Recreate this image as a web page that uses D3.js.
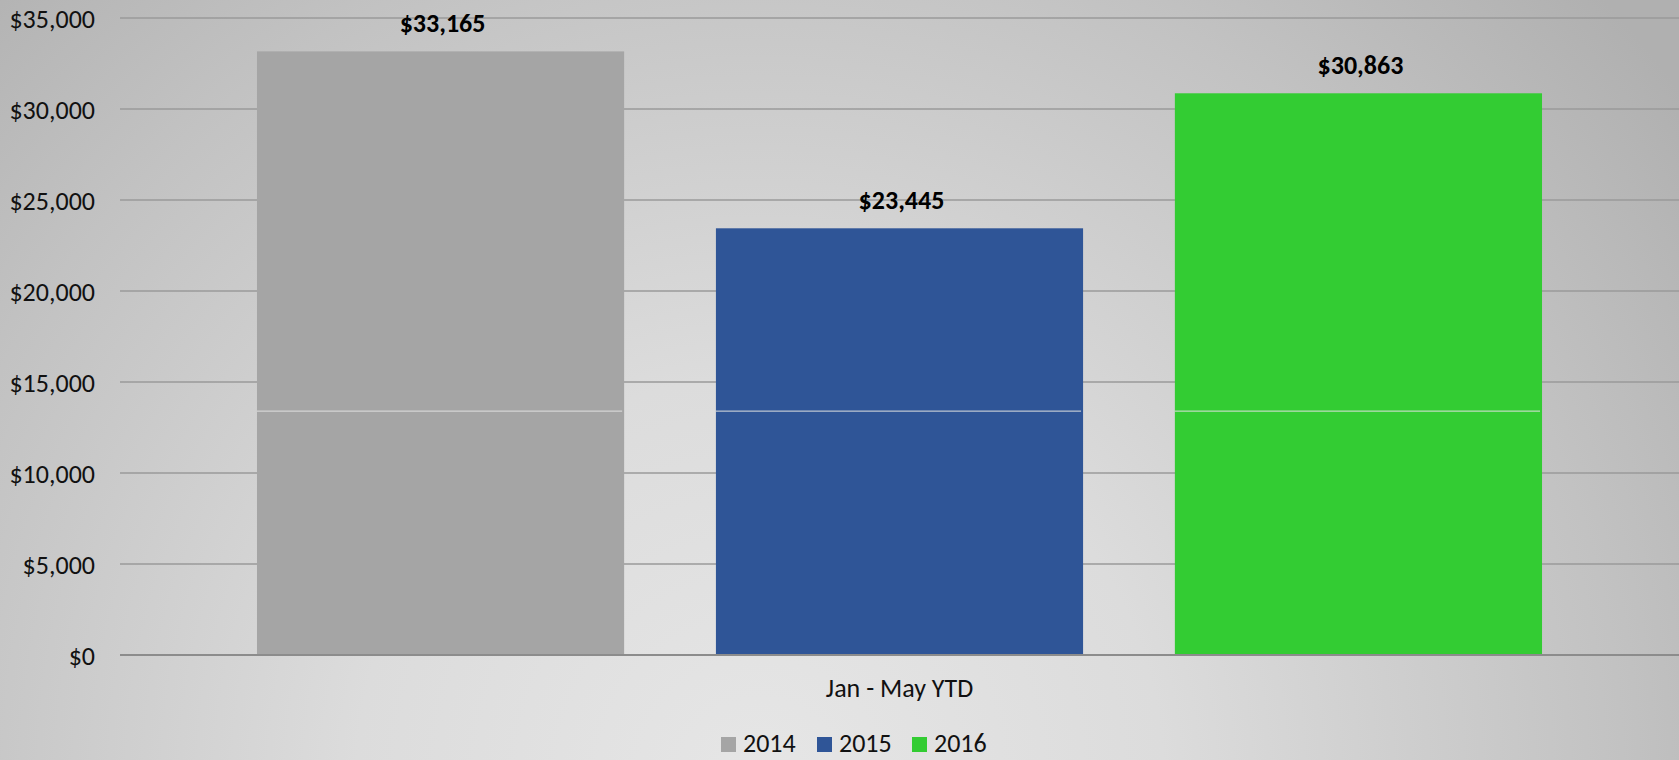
<!DOCTYPE html>
<html><head><meta charset="utf-8">
<script src="https://cdn.jsdelivr.net/npm/d3@7/dist/d3.min.js"></script>
<style>html,body{margin:0;padding:0;overflow:hidden;}svg{display:block;}</style>
</head><body>
<script>
const categories = ["Jan - May YTD"];
const series = ["2014", "2015", "2016"];
const values2014 = [33165];
const values2015 = [23445];
const values2016 = [30863];
const seriesValues = [values2014, values2015, values2016];
const colors = ["#a5a5a5", "#2f5597", "#33cc33"];
const yTicks = [0, 5000, 10000, 15000, 20000, 25000, 30000, 35000];

const W = 1679, H = 760;
const margin = {left: 120, right: 0, top: 18, bottom: 105};
const svg = d3.select("body").append("svg").attr("width", W).attr("height", H);

const defs = svg.append("defs");
const rg = defs.append("radialGradient").attr("id", "bg")
  .attr("gradientUnits", "userSpaceOnUse")
  .attr("cx", 760).attr("cy", 780).attr("r", 1150);
rg.append("stop").attr("offset", "0%").attr("stop-color", "#e6e6e6");
rg.append("stop").attr("offset", "35%").attr("stop-color", "#dcdcdc");
rg.append("stop").attr("offset", "75%").attr("stop-color", "#c2c2c2");
rg.append("stop").attr("offset", "100%").attr("stop-color", "#b0b0b0");
svg.append("rect").attr("width", W).attr("height", H).attr("fill", "url(#bg)");

const y = d3.scaleLinear().domain([0, 35000]).range([655, 18]);
const x0 = d3.scaleBand().domain(categories).range([margin.left, W]).paddingOuter(0.1066).paddingInner(0);
const x1 = d3.scaleBand().domain(series).range([0, x0.bandwidth()]).paddingInner(0.2).paddingOuter(0);

const font = "Carlito, Lato, 'Open Sans', sans-serif";
const fs = 26;

// gridlines
svg.append("g").selectAll("line").data(yTicks.filter(d => d > 0)).join("line")
  .attr("x1", margin.left).attr("x2", W)
  .attr("y1", d => y(d)).attr("y2", d => y(d))
  .attr("stroke", "#9a9a9a").attr("stroke-width", 1.5);

// y axis labels
const yAxis = d3.axisLeft(y).tickValues(yTicks).tickSize(0).tickPadding(0)
  .tickFormat(d => "$" + d3.format(",")(d));
const yg = svg.append("g").attr("transform", `translate(95,0)`).call(yAxis);
yg.select(".domain").remove();
yg.selectAll("text").attr("font-family", font).attr("font-size", fs).attr("fill", "#111").attr("dy", "0.35em");

// bars
const data = [];
categories.forEach((c, ci) => series.forEach((s, si) => data.push({c, s, v: seriesValues[si][ci], color: colors[si]})));
const bars = svg.append("g");
bars.selectAll("rect").data(data).join("rect")
  .attr("x", d => x0(d.c) + x1(d.s))
  .attr("width", x1.bandwidth())
  .attr("y", d => y(d.v))
  .attr("height", d => y(0) - y(d.v))
  .attr("fill", d => d.color);

// faint light line across bars (as in reference)
bars.selectAll("line").data(data).join("line")
  .attr("x1", d => x0(d.c) + x1(d.s)).attr("x2", d => x0(d.c) + x1(d.s) + x1.bandwidth() - 2)
  .attr("y1", y(13400)).attr("y2", y(13400))
  .attr("stroke", "#e0e0e0").attr("stroke-width", 1);

// data labels
svg.append("g").selectAll("text").data(data).join("text")
  .attr("x", d => x0(d.c) + x1(d.s) + x1.bandwidth() / 2 + 2)
  .attr("y", d => y(d.v) - 19)
  .attr("text-anchor", "middle")
  .attr("font-family", font).attr("font-size", fs).attr("font-weight", "bold").attr("fill", "#000")
  .text(d => "$" + d3.format(",")(d.v));

// x axis line
svg.append("line").attr("x1", margin.left).attr("x2", W).attr("y1", y(0)).attr("y2", y(0))
  .attr("stroke", "#8c8c8c").attr("stroke-width", 2);

// category labels
const xAxis = d3.axisBottom(x0).tickSize(0).tickPadding(0);
const xg = svg.append("g").attr("transform", `translate(0,697)`).call(xAxis);
xg.select(".domain").remove();
xg.selectAll("text").attr("font-family", font).attr("font-size", fs).attr("fill", "#111").attr("dy", 0);

// legend
const legendX = [721, 817, 912];
const lg = svg.append("g").selectAll("g").data(series).join("g")
  .attr("transform", (d, i) => `translate(${legendX[i]},737)`);
lg.append("rect").attr("width", 15).attr("height", 15).attr("fill", (d, i) => colors[i]);
lg.append("text").attr("x", 22).attr("y", 15).attr("font-family", font).attr("font-size", fs).attr("fill", "#111").text(d => d);
</script>
</body></html>
